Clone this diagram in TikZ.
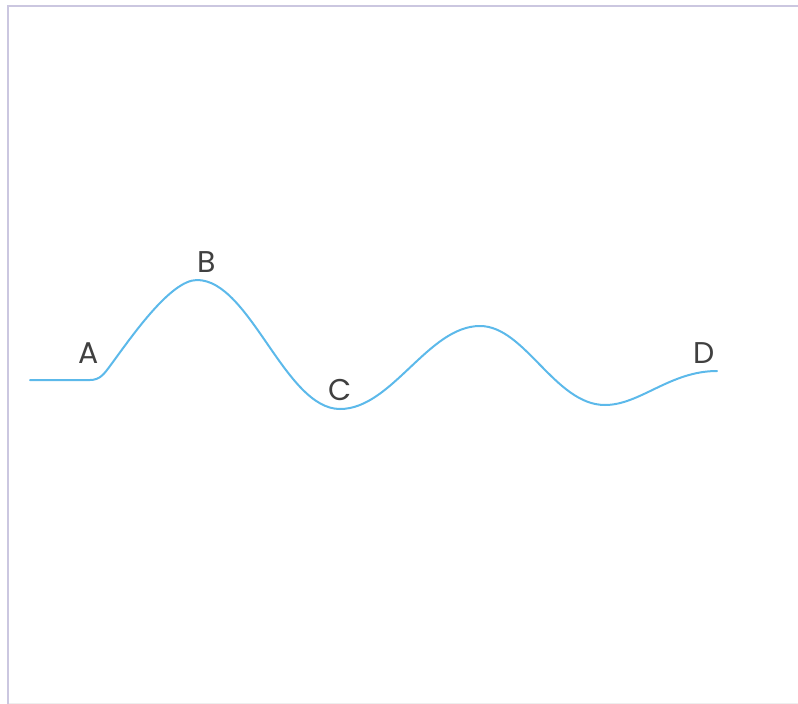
\documentclass[tikz,border=0pt]{standalone}
\usepackage{fontspec}
\setmainfont{Poppins}
\definecolor{framec}{HTML}{CBC7E0}
\definecolor{basec}{HTML}{EEEEEE}
\definecolor{wavec}{HTML}{5CB9EA}
\definecolor{labelc}{HTML}{404040}
\usetikzlibrary{positioning}

\begin{document}
\begin{tikzpicture}[x=1pt, y=-1pt,
    frame/.style = {draw=framec, line width=2pt},
    wave/.style = {draw=wavec, line width=2pt, line cap=round, line join=round},
    lbl/.style = {text=labelc, inner sep=0pt, font=\fontsize{30}{34}\selectfont}]

\useasboundingbox (0,0) rectangle (798,704);

% frame
\draw[frame] (8,704) -- (8,6) -- (798,6);
\draw[draw=basec, line width=1pt] (9,703) -- (798,703);

% points on the wave
\coordinate (s) at (30,380);
\coordinate (a) at (90,380);
\coordinate (a2) at (110,366);
\coordinate (b) at (197,280);
\coordinate (c) at (340,409);
\coordinate (p) at (480,326);
\coordinate (q) at (605,405);
\coordinate (d) at (717,371);

\draw[wave] (s) -- (a)
    .. controls (100,380) and (104,374) .. (a2)
    .. controls (130,339) and (170,280) .. (b)
    .. controls (250,280) and (285,409) .. (c)
    .. controls (392,409) and (428,326) .. (p)
    .. controls (525,326) and (555,405) .. (q)
    .. controls (640,405) and (670,371) .. (d);

% labels
\node[lbl] (la) at (89,353) {A};
\node[lbl] (lb) at (207,262) {B};
\node[lbl] (lc) at (340,390) {C};
\node[lbl] (ld) at (704,353) {D};

\end{tikzpicture}
\end{document}
